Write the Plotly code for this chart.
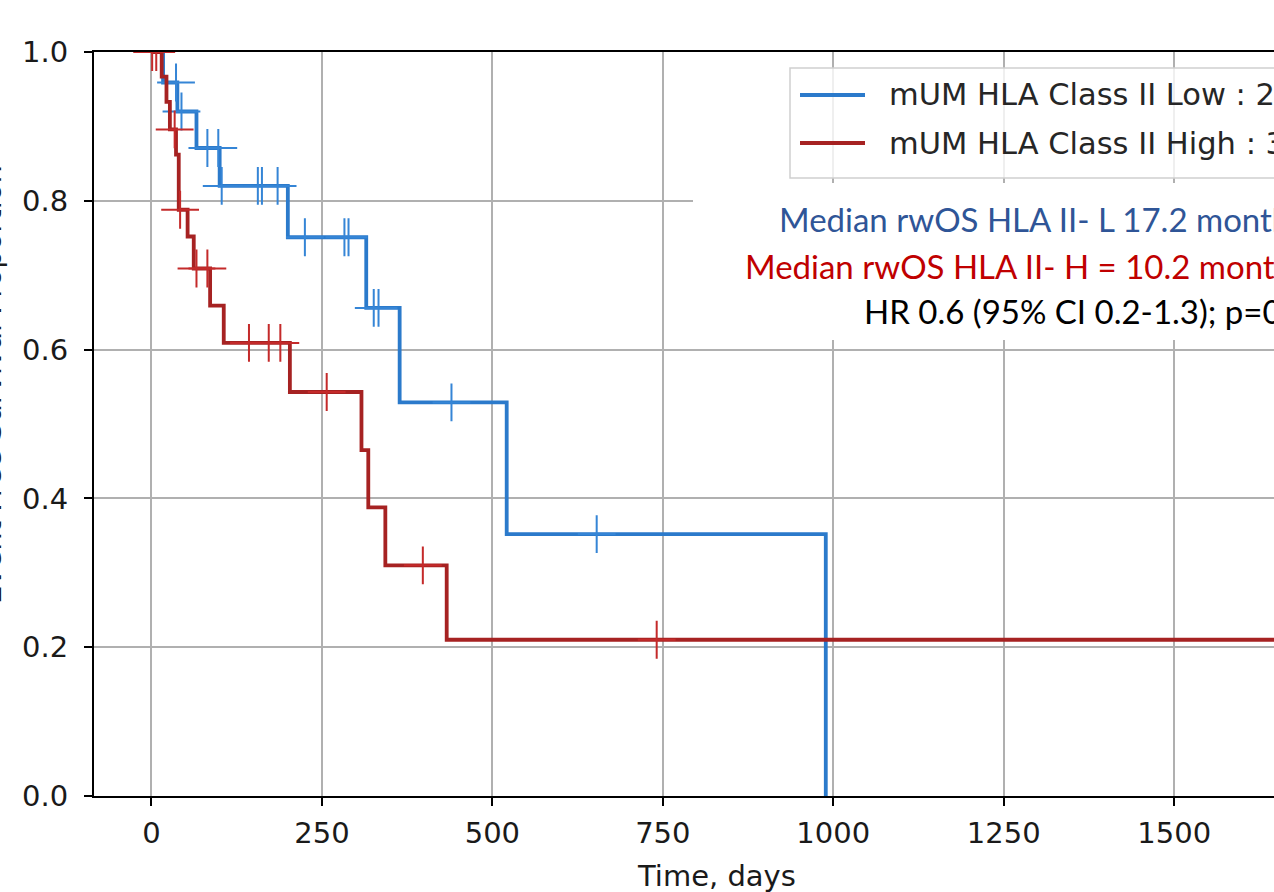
import plotly.graph_objects as go

# ---------------- data ----------------
low_name = "mUM HLA Class II Low : 2"
high_name = "mUM HLA Class II High : 3"

# Kaplan-Meier step points, HLA Class II Low (blue)
low_time = [0, 17, 38, 66, 100, 200, 315, 364, 521, 989]
low_surv = [1.0, 0.959, 0.920, 0.871, 0.820, 0.751, 0.656, 0.529, 0.352, 0.0]
# censored observations, Low
low_cens_time = [36, 44, 82, 98, 103, 156, 162, 185, 225, 283, 289, 326, 333, 440, 653]
low_cens_surv = [0.959, 0.920, 0.871, 0.871, 0.820, 0.820, 0.820, 0.820,
                 0.751, 0.751, 0.751, 0.656, 0.656, 0.529, 0.352]

# Kaplan-Meier step points, HLA Class II High (red)
high_time = [0, 15, 22, 27, 36, 40, 53, 62, 86, 106, 203, 308, 318, 343, 433, 1694]
high_surv = [1.0, 0.967, 0.933, 0.896, 0.862, 0.788, 0.752, 0.709, 0.659, 0.609,
             0.543, 0.465, 0.388, 0.310, 0.210, 0.210]
# censored observations, High
high_cens_time = [1, 7, 34, 42, 66, 82, 143, 172, 189, 257, 398, 741]
high_cens_surv = [1.0, 1.0, 0.896, 0.788, 0.709, 0.709, 0.609, 0.609, 0.609, 0.543, 0.310, 0.210]

x_ticks = [0, 250, 500, 750, 1000, 1250, 1500]
y_ticks = [0.0, 0.2, 0.4, 0.6, 0.8, 1.0]

x_title = "Time, days"
y_title = "Event Free Survival Proportion"
note_lines = [
    ("Median rwOS HLA II- L 17.2 months", "#2F5597"),
    ("Median rwOS HLA II- H = 10.2 months", "#C00000"),
    ("HR 0.6 (95% CI 0.2-1.3); p=0.3", "#000000"),
]

# ---------------- style ----------------
W, H = 1274, 892
ML, MR, MT, MB = 94, 0, 52, 96
PW, PH = W - ML - MR, H - MT - MB
BLUE = "#2b7acb"
BLUE_M = "#3585d6"
RED = "#a62222"
RED_M = "#c42a2a"
TICK_FONT = dict(family="DejaVu Sans", size=29, color="#1a1a1a")


def px(xp):
    return (xp - ML) / PW


def py(yp):
    return (H - MB - yp) / PH


fig = go.Figure()
fig.add_trace(go.Scatter(x=low_time, y=low_surv, mode="lines", line_shape="hv",
                         line=dict(color=BLUE, width=3.8), name=low_name, showlegend=False))
fig.add_trace(go.Scatter(x=low_cens_time, y=low_cens_surv, mode="markers",
                         marker=dict(symbol="cross-thin", size=27, color=BLUE_M,
                                     line=dict(width=2, color=BLUE_M)),
                         showlegend=False))
fig.add_trace(go.Scatter(x=high_time, y=high_surv, mode="lines", line_shape="hv",
                         line=dict(color=RED, width=3.8), name=high_name, showlegend=False))
fig.add_trace(go.Scatter(x=high_cens_time, y=high_cens_surv, mode="markers",
                         marker=dict(symbol="cross-thin", size=27, color=RED_M,
                                     line=dict(width=2, color=RED_M)),
                         showlegend=False))

shapes = []
# white text box covering the grid (as in the source figure)
shapes.append(dict(type="rect", xref="paper", yref="paper",
                   x0=px(693), x1=px(1320), y0=py(340), y1=py(183),
                   fillcolor="white", line=dict(width=0), layer="above"))
# legend frame
shapes.append(dict(type="rect", xref="paper", yref="paper",
                   x0=px(790), x1=px(1330), y0=py(178), y1=py(68),
                   fillcolor="rgba(255,255,255,0.8)", line=dict(color="#cfcfcf", width=1.5),
                   layer="above"))
# legend line samples
for yy, col in [(95, BLUE), (143, RED)]:
    shapes.append(dict(type="line", xref="paper", yref="paper",
                       x0=px(800), x1=px(865), y0=py(yy), y1=py(yy),
                       line=dict(color=col, width=3.8), layer="above"))

annotations = []
for yy, txt in [(95, low_name), (143, high_name)]:
    annotations.append(dict(xref="paper", yref="paper", x=px(887), y=py(yy),
                            xanchor="left", yanchor="middle", text=txt, showarrow=False,
                            font=dict(family="DejaVu Sans", size=30.5, color="#262626")))
for (txt, col), x0, yy in zip(note_lines, [777, 743, 862], [219, 266, 311]):
    annotations.append(dict(xref="paper", yref="paper", x=px(x0), y=py(yy),
                            xanchor="left", yanchor="middle", text=txt, showarrow=False,
                            font=dict(family="Lato", size=33, color=col)))
annotations.append(dict(xref="paper", yref="paper", x=px(716), y=py(876),
                        xanchor="center", yanchor="middle", text=x_title, showarrow=False,
                        font=TICK_FONT))
annotations.append(dict(xref="paper", yref="paper", x=px(-9), y=py(385),
                        xanchor="center", yanchor="middle", text=y_title, showarrow=False,
                        textangle=-90, font=TICK_FONT))

fig.update_layout(
    width=W, height=H,
    margin=dict(l=ML, r=MR, t=MT, b=MB, pad=0),
    paper_bgcolor="white", plot_bgcolor="white",
    showlegend=False,
    shapes=shapes, annotations=annotations,
    xaxis=dict(range=[-84.3, 1646.4], tickvals=x_ticks, ticks="outside", ticklen=8,
               tickwidth=1.6, tickcolor="black", showline=True, linecolor="black",
               linewidth=2, mirror=True, showgrid=True, gridcolor="#b0b0b0", gridwidth=1.6,
               zeroline=False, tickfont=TICK_FONT, ticklabelstandoff=2),
    yaxis=dict(range=[0, 1], tickvals=y_ticks, tickformat=".1f", ticks="outside", ticklen=8,
               tickwidth=1.6, tickcolor="black", showline=True, linecolor="black",
               linewidth=2, showgrid=True, gridcolor="#b0b0b0", gridwidth=1.6,
               zeroline=False, tickfont=TICK_FONT, ticklabelstandoff=10),
)

fig.write_html("out.html")
